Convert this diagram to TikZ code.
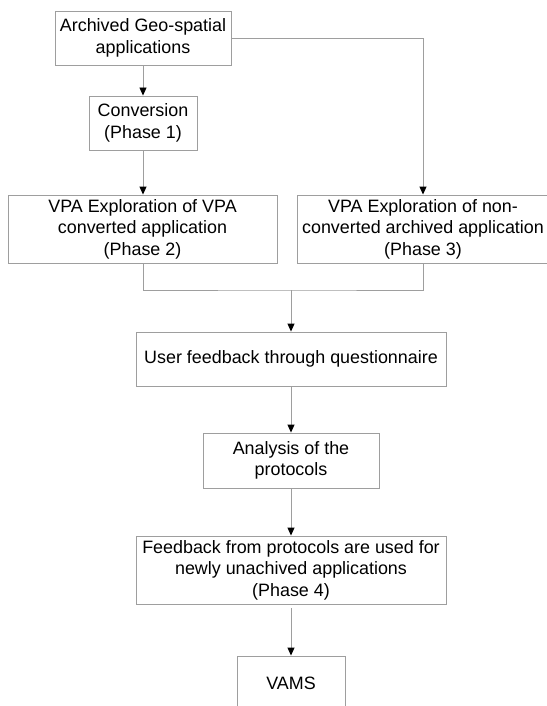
\documentclass[tikz,border=0pt]{standalone}
\usepackage{fontspec}
\setmainfont{Liberation Sans}
\usetikzlibrary{arrows.meta}
\begin{document}
\begin{tikzpicture}[x=1pt,y=-1pt,
  box/.style={draw=black!38, line width=0.9pt, align=center, inner sep=0pt,
    font=\fontsize{17.9}{21.6}\selectfont},
  conn/.style={draw=black!38, line width=0.9pt},
  arr/.style={conn, -{Triangle[width=7pt,length=8pt,color=black,fill=black]}}]
\useasboundingbox (0,0) rectangle (546,706);
\fill[white] (0,0) rectangle (546,706);

\node[box, minimum width=176pt, minimum height=54pt] (a) at (143,38) {Archived Geo-spatial\\applications};
\node[box, minimum width=108pt, minimum height=54pt] (conv) at (143,123) {Conversion\\(Phase 1)};
\node[box, minimum width=269pt, minimum height=68pt] (vpa2) at (142.5,229) {VPA Exploration of VPA\\converted application\\(Phase 2)};
\node[box, minimum width=252pt, minimum height=68pt] (vpa3) at (423,229) {VPA Exploration of non-\\converted archived application\\(Phase 3)};
\node[box, minimum width=310pt, minimum height=54pt] (user) at (291,359) {User feedback through questionnaire};
\node[box, minimum width=176pt, minimum height=55pt] (ana) at (291,460.5) {Analysis of the\\protocols};
\node[box, minimum width=310pt, minimum height=68pt] (fb) at (291,570) {Feedback from protocols are used for\\newly unachived applications\\(Phase 4)};
\node[box, minimum width=108pt, minimum height=54pt] (vams) at (291,683) {VAMS};

\coordinate (m) at (291,290);

\draw[arr] (a.south) -- (conv.north);
\draw[arr] (conv.south) -- (conv.south |- vpa2.north);
\draw[arr] (a.east) -| (vpa3.north);
\draw[conn] (conv.south |- vpa2.south) |- (m) -| (vpa3.south);
\draw[arr] (m) -- (user.north);
\draw[arr] (user.south) -- (ana.north);
\draw[arr] (ana.south) -- (fb.north);
\draw[arr, shorten <=4pt] (fb.south) -- (vams.north);
\end{tikzpicture}
\end{document}
